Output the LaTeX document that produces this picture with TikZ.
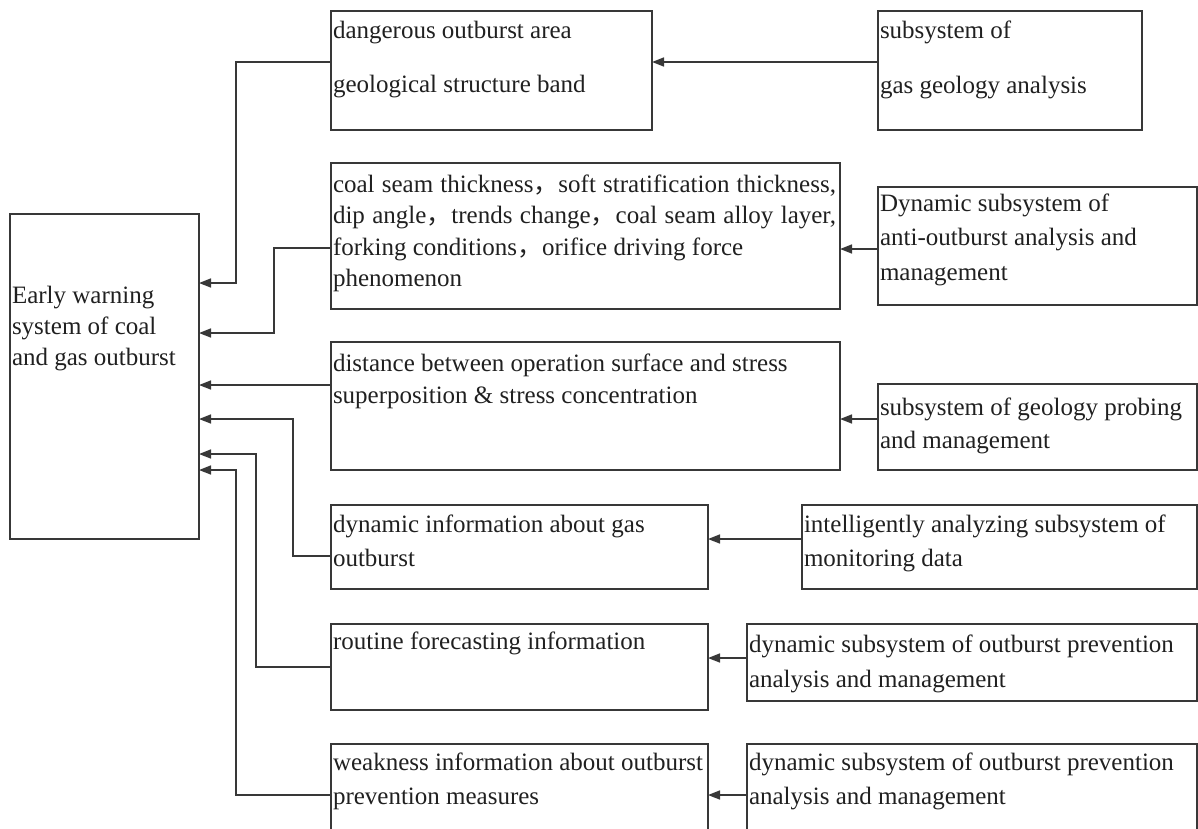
\documentclass[tikz,border=0pt]{standalone}
\usepackage{fontspec}
\setmainfont{Liberation Serif}
\newfontfamily\cjk{Noto Sans CJK SC}
\usetikzlibrary{arrows.meta}
\definecolor{linec}{HTML}{383838}
\definecolor{textc}{HTML}{202020}
\newcommand{\cc}{{\cjk ，}}
% width, height, first baseline offset, baselineskip, text
\newcommand{\bt}[5]{\parbox[t][#2][t]{#1}{\fontsize{25pt}{#4}\selectfont\raggedright\leftskip=2pt\color{textc}\rule{0pt}{#3}#5}}
\begin{document}
\begin{tikzpicture}[x=1pt,y=-1pt,
  box/.style={draw=linec, line width=1.5pt, anchor=north west, inner sep=0pt, outer sep=0pt},
  arr/.style={draw=linec, line width=1.6pt, -{Triangle[length=12pt,width=9pt]}}]
\useasboundingbox (0,0) rectangle (1198,828);

% main box
\node[box] (M) at (10,214) {\bt{189pt}{325pt}{89pt}{31pt}{Early warning\\system of coal\\and gas outburst}};

% middle column
\node[box] (A) at (331,11) {\bt{321pt}{119pt}{27pt}{54pt}{dangerous outburst area\\geological structure band}};
\node[box] (B) at (331,163) {\bt{509pt}{146pt}{29pt}{31.5pt}{\makebox[503pt][s]{coal seam thickness\cc soft stratification thickness,}\\\makebox[503pt][s]{dip angle\cc trends change\cc coal seam alloy layer,}\\forking conditions\cc orifice driving force\\phenomenon}};
\node[box] (C) at (331,342) {\bt{509pt}{128pt}{29pt}{32pt}{distance between operation surface and stress\\superposition \& stress concentration}};
\node[box] (D) at (331,505) {\bt{377pt}{84pt}{27pt}{34pt}{dynamic information about gas\\outburst}};
\node[box] (E) at (331,624) {\bt{377pt}{86pt}{25pt}{34pt}{routine forecasting information}};
\node[box] (F) at (331,744) {\bt{377pt}{88pt}{26pt}{34pt}{weakness information about outburst\\prevention measures}};

% right column
\node[box] (A2) at (878,11) {\bt{264pt}{119pt}{27pt}{55pt}{subsystem of\\gas geology analysis}};
\node[box] (B2) at (878,187) {\bt{319pt}{118pt}{24pt}{34.5pt}{Dynamic subsystem of\\anti-outburst analysis and\\management}};
\node[box] (C2) at (878,384) {\bt{319pt}{86pt}{31pt}{33pt}{subsystem of geology probing\\and management}};
\node[box] (D2) at (802,505) {\bt{395pt}{84pt}{27pt}{34pt}{intelligently analyzing subsystem of\\monitoring data}};
\node[box] (E2) at (747,624) {\bt{450pt}{77pt}{28pt}{35pt}{dynamic subsystem of outburst prevention\\analysis and management}};
\node[box] (F2) at (747,744) {\bt{450pt}{88pt}{26pt}{34pt}{dynamic subsystem of outburst prevention\\analysis and management}};

% connector start points
\coordinate (b2o) at ([yshift=-62pt]B2.north west);
\coordinate (c2o) at ([yshift=-35pt]C2.north west);

% right-to-middle arrows
\draw[arr] ([yshift=-51pt]A2.north west) -- ([yshift=-51pt]A.north east);
\draw[arr] (b2o) -- (B.east |- b2o);
\draw[arr] (c2o) -- (C.east |- c2o);
\draw[arr] ([yshift=-34pt]D2.north west) -- ([yshift=-34pt]D.north east);
\draw[arr] ([yshift=-34pt]E2.north west) -- ([yshift=-34pt]E.north east);
\draw[arr] ([yshift=-51pt]F2.north west) -- ([yshift=-51pt]F.north east);

% middle-to-main arrows
\draw[arr] ([yshift=-51pt]A.north west) -- ++(-95,0) |- ([yshift=-69pt]M.north east);
\draw[arr] ([yshift=-85pt]B.north west) -- ++(-57,0) |- ([yshift=-119pt]M.north east);
\draw[arr] ([yshift=-43pt]C.north west) -- ([yshift=-171pt]M.north east);
\draw[arr] ([yshift=-51pt]D.north west) -- ++(-38,0) |- ([yshift=-205pt]M.north east);
\draw[arr] ([yshift=-43pt]E.north west) -- ++(-75,0) |- ([yshift=-240pt]M.north east);
\draw[arr] ([yshift=-51pt]F.north west) -- ++(-95,0) |- ([yshift=-256pt]M.north east);
\end{tikzpicture}
\end{document}
